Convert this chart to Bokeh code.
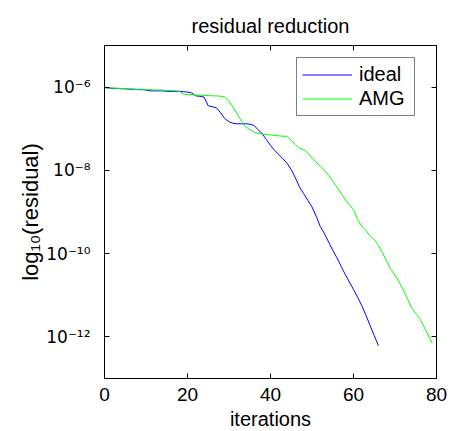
import numpy as np
from bokeh.plotting import figure
from bokeh.models import (FixedTicker, CustomJSTickFormatter, LogAxis, LinearAxis,
                          Legend, LegendItem, Range1d)
from bokeh.embed import file_html
from bokeh.resources import INLINE

# ---- data (log10 of residual) ----
ideal_iter = list(range(0, 67))
ideal_log = [-6.01, -6.02, -6.03, -6.03, -6.04, -6.04, -6.05, -6.05, -6.06, -6.06,
             -6.07, -6.09, -6.09, -6.09, -6.09, -6.10, -6.10, -6.10, -6.10, -6.11,
             -6.12, -6.14, -6.21, -6.22, -6.24, -6.45, -6.47, -6.50, -6.62, -6.76,
             -6.83, -6.87, -6.88, -6.88, -6.88, -6.89, -6.92, -7.02, -7.12, -7.26,
             -7.40, -7.52, -7.62, -7.72, -7.83, -7.98, -8.18, -8.40, -8.56, -8.72,
             -8.88, -9.10, -9.35, -9.52, -9.72, -9.92, -10.10, -10.30, -10.50, -10.68,
             -10.86, -11.05, -11.25, -11.48, -11.73, -11.97, -12.21]

amg_iter = list(range(0, 80))
amg_log = [-6.01, -6.02, -6.02, -6.03, -6.03, -6.04, -6.04, -6.05, -6.05, -6.05,
           -6.06, -6.06, -6.07, -6.07, -6.07, -6.08, -6.08, -6.09, -6.10, -6.17,
           -6.18, -6.18, -6.19, -6.19, -6.20, -6.20, -6.21, -6.21, -6.22, -6.24,
           -6.34, -6.48, -6.65, -6.82, -6.95, -7.02, -7.08, -7.11, -7.13, -7.14,
           -7.15, -7.16, -7.17, -7.18, -7.18, -7.28, -7.38, -7.47, -7.50, -7.58,
           -7.70, -7.80, -7.90, -8.00, -8.12, -8.26, -8.40, -8.55, -8.70, -8.82,
           -8.94, -9.18, -9.34, -9.44, -9.58, -9.66, -9.80, -9.98, -10.18, -10.38,
           -10.52, -10.68, -10.88, -11.08, -11.30, -11.44, -11.56, -11.76, -11.96, -12.15]

series_names = ["ideal", "AMG"]
x_ticks = [0, 20, 40, 60, 80]
y_tick_exponents = [-12, -10, -8, -6]
y_tick_labels = ["10\u207b\u00b9\u00b2", "10\u207b\u00b9\u2070", "10\u207b\u2078", "10\u207b\u2076"]

FONT = "Liberation Sans"

p = figure(output_backend="svg", toolbar_location=None,
           y_axis_type="log",
           frame_width=332, frame_height=333,
           min_border_left=104, min_border_top=45, min_border_right=12, min_border_bottom=50,
           x_range=Range1d(0, 80), y_range=Range1d(1e-13, 1e-5),
           title="residual reduction")

p.title.text_font = FONT
p.title.text_font_size = "20px"
p.title.text_font_style = "normal"
p.title.text_color = "black"
p.title.align = "center"
p.title.standoff = 17

r1 = p.line(ideal_iter, [10.0 ** v for v in ideal_log], line_color="#0000ff", line_width=1)
r2 = p.line(amg_iter, [10.0 ** v for v in amg_log], line_color="#00ff00", line_width=1)

p.grid.visible = False
p.outline_line_color = "black"
p.outline_line_width = 1
p.background_fill_color = "white"
p.border_fill_color = "white"

yfmt = CustomJSTickFormatter(args=dict(exps=y_tick_exponents, labels=y_tick_labels),
                             code="const e = Math.round(Math.log10(tick)); const i = exps.indexOf(e); return i >= 0 ? labels[i] : '';")
blank = CustomJSTickFormatter(code="return '';")

def style_axis(ax):
    ax.axis_line_color = "black"
    ax.major_tick_line_color = "black"
    ax.major_tick_in = 5
    ax.major_tick_out = 0
    ax.minor_tick_line_color = None
    ax.major_label_text_font = FONT
    ax.major_label_text_font_size = "19px"
    ax.major_label_text_color = "black"
    ax.axis_label_text_font = FONT
    ax.axis_label_text_font_size = "20px"
    ax.axis_label_text_font_style = "normal"
    ax.axis_label_text_color = "black"

xa = p.xaxis[0]
style_axis(xa)
xa.ticker = FixedTicker(ticks=x_ticks)
xa.axis_label = "iterations"
xa.major_label_standoff = 9
xa.axis_label_standoff = 4

ya = p.yaxis[0]
style_axis(ya)
ya.ticker = FixedTicker(ticks=[10.0 ** e for e in y_tick_exponents])
ya.formatter = yfmt
ya.major_label_text_font = "DejaVu Sans"
ya.major_label_text_font_size = "17px"
ya.axis_label = "log\u2081\u2080(residual)"
ya.axis_label_text_font_size = "22px"
ya.major_label_standoff = 14
ya.axis_label_standoff = 0

ra = LogAxis(ticker=FixedTicker(ticks=[10.0 ** e for e in y_tick_exponents]), formatter=blank)
style_axis(ra)
ra.major_label_text_font_size = "0px"
ra.major_label_standoff = 0
p.add_layout(ra, "right")

ta = LinearAxis(ticker=FixedTicker(ticks=x_ticks), formatter=blank)
style_axis(ta)
ta.major_label_text_font_size = "0px"
ta.major_label_standoff = 0
p.add_layout(ta, "above")

legend = Legend(items=[LegendItem(label=series_names[0], renderers=[r1]),
                       LegendItem(label=series_names[1], renderers=[r2])],
                location=(192, 262))
legend.label_text_font = FONT
legend.label_text_font_size = "20px"
legend.label_text_color = "black"
legend.glyph_width = 50
legend.glyph_height = 17
legend.label_height = 18
legend.label_width = 50
legend.label_standoff = 7
legend.padding = 5
legend.spacing = 1
legend.margin = 0
legend.border_line_color = "black"
legend.border_line_width = 1
legend.background_fill_color = "white"
legend.background_fill_alpha = 1
p.add_layout(legend)

with open("out.html", "w") as f:
    f.write(file_html(p, INLINE))
